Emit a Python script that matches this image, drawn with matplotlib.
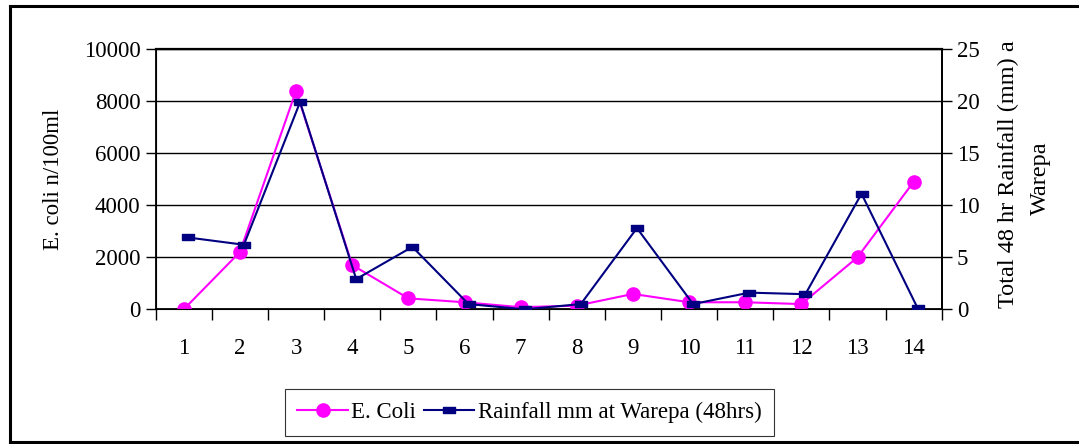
import numpy as np
import matplotlib.pyplot as plt
from matplotlib.path import Path
from matplotlib.lines import Line2D
from matplotlib.transforms import ScaledTranslation

# Sampling occasions
samples = list(range(1, 15))

# E. coli counts (n/100ml)
ecoli = [0, 2200, 8400, 1700, 420, 270, 80, 140, 590, 270, 270, 200, 2000, 4900]

# Total 48 hr rainfall at Warepa (mm)
rainfall = [6.9, 6.2, 19.9, 2.9, 6.0, 0.5, 0.0, 0.5, 7.8, 0.5, 1.6, 1.45, 11.1, 0.1]

ecoli_ticks = [0, 2000, 4000, 6000, 8000, 10000]
rain_ticks = [0, 5, 10, 15, 20, 25]

plt.rcParams['font.family'] = ['Liberation Serif', 'DejaVu Serif']
fs = 16.5

fig = plt.figure(figsize=(10.79, 4.44), dpi=100)
ax = fig.add_axes([0.1443, 0.3034, 0.7285, 0.5862])

# gridlines behind the data
for y in ecoli_ticks[1:]:
    ax.axhline(y, color='black', lw=1.0, zorder=1)

l1, = ax.plot(samples, ecoli, color='#FF00FF', lw=1.5, marker='o', markersize=9.5,
              label='E. Coli', zorder=3)
ax.set_xlim(0.5, 14.5)
ax.set_ylim(0, 10000)
ax.set_yticks(ecoli_ticks)
ax.set_xticks(samples)
ax.set_xticks(np.arange(0.5, 15, 1), minor=True)
ax.tick_params(axis='x', which='major', length=0, pad=21, labelsize=fs)
ax.tick_params(axis='x', which='minor', length=8, width=1, direction='out')
ax.tick_params(axis='y', length=7, width=1, direction='out', labelsize=fs, pad=4)
ax.set_ylabel('E. coli n/100ml', fontsize=fs, labelpad=14)
for s in ax.spines.values():
    s.set_linewidth(1.3)
ax.spines['top'].set_linewidth(1.6)

# rainfall on the secondary axis
ax2 = ax.twinx()
rect = Path([(-1, -0.6), (1, -0.6), (1, 0.6), (-1, 0.6), (-1, -0.6)],
            [Path.MOVETO, Path.LINETO, Path.LINETO, Path.LINETO, Path.CLOSEPOLY])
shift = ax2.transData + ScaledTranslation(0.04, 0, fig.dpi_scale_trans)
l2, = ax2.plot(samples, rainfall, color='#000080', lw=1.5, marker=rect, markersize=8,
               label='Rainfall mm at Warepa (48hrs)', transform=shift, zorder=4)
ax2.set_ylim(0, 25)
ax2.set_yticks(rain_ticks)
ax2.tick_params(axis='y', length=7, width=1, direction='out', labelsize=fs, pad=4)
ax2.spines['right'].set_linewidth(1.3)

fig.text(1008 / 1079, 1 - 174 / 444, 'Total 48 hr Rainfall (mm) a', rotation=90,
         ha='center', va='center', fontsize=17.5)
fig.text(1040 / 1079, 1 - 178 / 444, 'Warepa', rotation=90,
         ha='center', va='center', fontsize=17.5)

leg = fig.legend(handles=[l1, l2], loc='center', ncol=2,
                 bbox_to_anchor=(529.5 / 1079, 1 - 412.5 / 444),
                 fontsize=fs, frameon=True, fancybox=False, handlelength=2.2,
                 handletextpad=0.15, columnspacing=0.35, borderpad=0.55)
leg.get_frame().set_edgecolor('black')
leg.get_frame().set_linewidth(0.8)

# chart border
W, H = 1079, 444
for xs, ys in [((9.5, 9.5), (6.5, 441.5)), ((9.5, W), (6.5, 6.5)), ((9.5, W), (441.5, 441.5))]:
    fig.add_artist(Line2D([x / W for x in xs], [1 - y / H for y in ys],
                          transform=fig.transFigure, color='black', lw=2.2))

fig.savefig('out.png', dpi=100)
